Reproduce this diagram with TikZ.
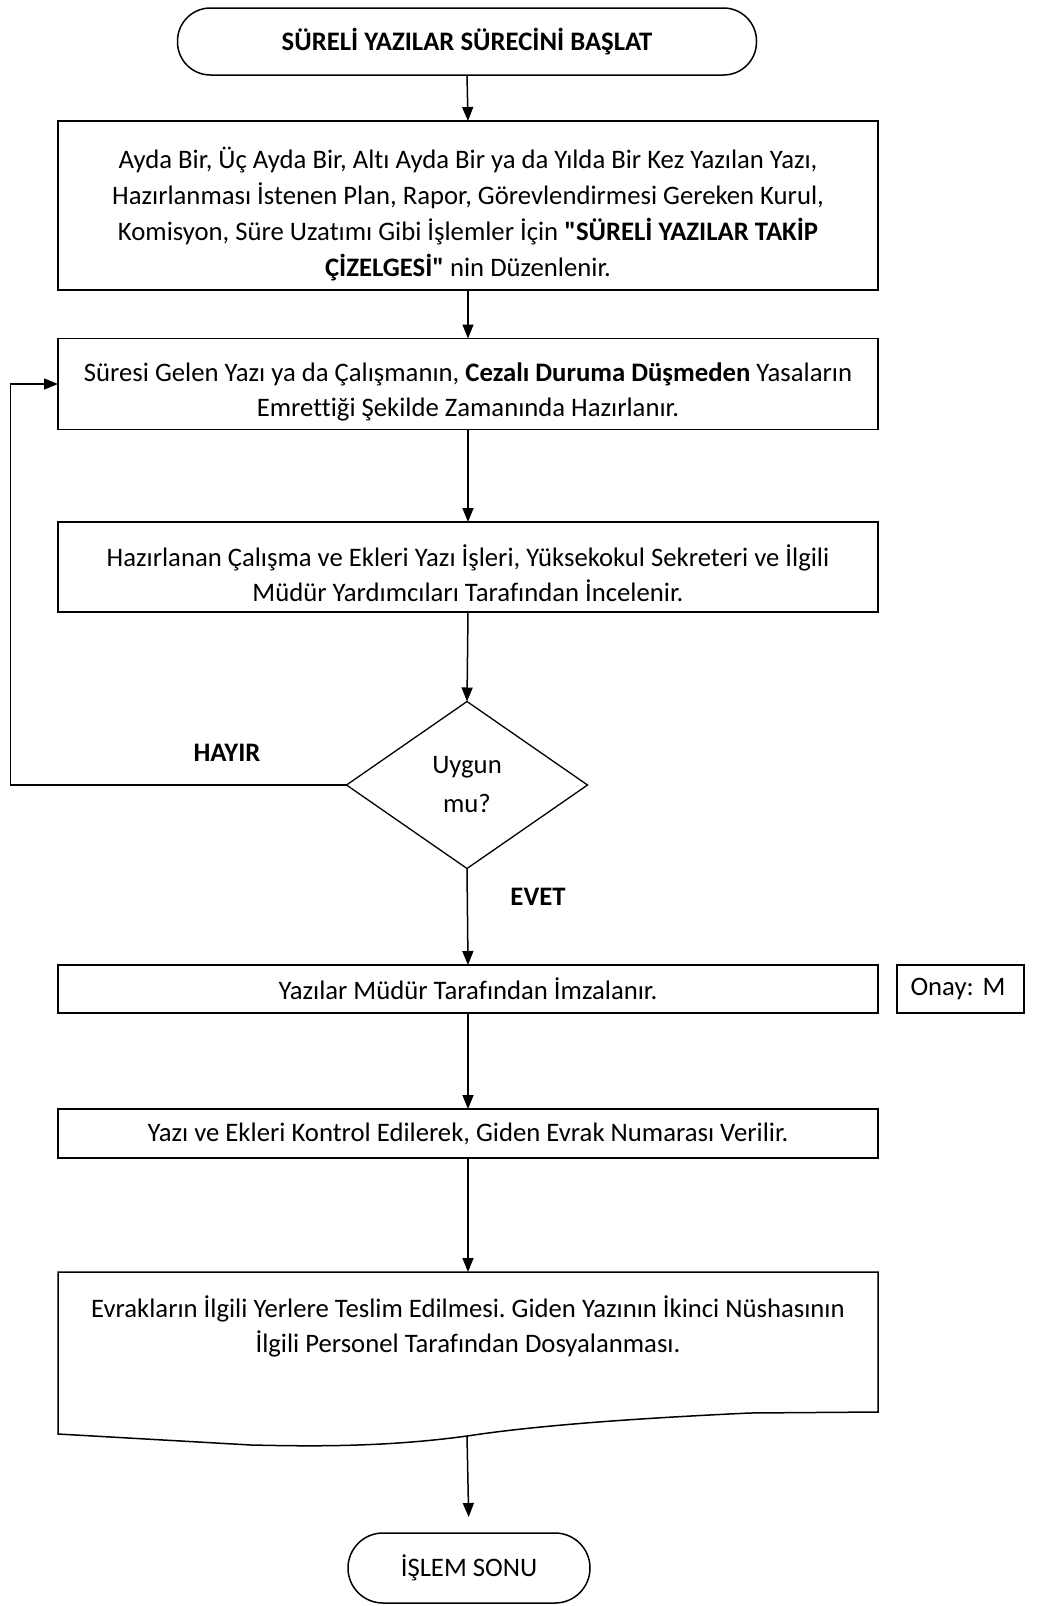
\documentclass[tikz,border=0pt]{standalone}
\usepackage{fontspec}
\setmainfont{Carlito}[Ligatures={TeXOff,NoCommon}]
\usetikzlibrary{arrows.meta,shapes.geometric}
\frenchspacing
\begin{document}
\begin{tikzpicture}[x=1pt,y=-1pt,
  every node/.style={font=\fontsize{26.7}{35}\selectfont, align=center, outer sep=0pt},
  flowbox/.style={draw, line width=1.5pt, minimum width=820pt, inner sep=0pt},
  boxtext/.style={inner sep=0pt},
  term/.style={draw, line width=1.5pt, inner sep=0pt},
  decision/.style={draw, diamond, line width=1.3pt, inner sep=0pt,
    minimum width=241pt, minimum height=167pt, font=\fontsize{26.7}{39}\selectfont},
  arr/.style={line width=1.5pt, -{Triangle[width=11pt,length=14pt]}},
  lbl/.style={font=\fontsize{26.7}{30}\selectfont\bfseries}
]
\useasboundingbox (0,0) rectangle (1055,1606);

% start terminator
\node[term, rounded corners=33pt, minimum width=579pt, minimum height=67pt] (start) at (467,41.5)
  {\textbf{SÜRELİ YAZILAR SÜRECİNİ BAŞLAT}};

% process steps (frame + text set slightly low, as with extra space above each line)
\node[flowbox, minimum height=169pt] (b1) at (468,205.5) {};
\node[boxtext, font=\fontsize{26.7}{36}\selectfont] (b1t) at ([yshift=-9pt]b1.center)
  {Ayda Bir, Üç Ayda Bir, Altı Ayda Bir ya da Yılda Bir Kez Yazılan Yazı,\\
   Hazırlanması İstenen Plan, Rapor, Görevlendirmesi Gereken Kurul,\\
   Komisyon, Süre Uzatımı Gibi İşlemler İçin \textbf{"SÜRELİ YAZILAR TAKİP}\\
   \textbf{ÇİZELGESİ"} nin Düzenlenir.};

\node[flowbox, minimum height=91pt] (b2) at (468,384) {};
\node[boxtext] (b2t) at ([yshift=-8pt]b2.center)
  {Süresi Gelen Yazı ya da Çalışmanın, \textbf{Cezalı Duruma Düşmeden} Yasaların\\
   Emrettiği Şekilde Zamanında Hazırlanır.};

\node[flowbox, minimum height=90pt] (b3) at (468,567) {};
\node[boxtext] (b3t) at ([yshift=-6pt]b3.center)
  {Hazırlanan Çalışma ve Ekleri Yazı İşleri, Yüksekokul Sekreteri ve İlgili\\
   Müdür Yardımcıları Tarafından İncelenir.};

\node[decision] (dec) at (467,785) {Uygun\\mu?};

\node[flowbox, minimum height=48pt] (b4) at (468,989)
  {Yazılar Müdür Tarafından İmzalanır.};

\node[draw, line width=1.5pt, minimum height=48pt, text width=100pt, inner xsep=13.5pt,
  inner ysep=0pt, align=left] (onay) at (960.5,989) {\mbox{Onay:\ M}};

\node[flowbox, minimum height=49pt] (b5) at (468,1133.5)
  {Yazı ve Ekleri Kontrol Edilerek, Giden Evrak Numarası Verilir.};

% document shape with wavy lower edge
\draw[line width=1.5pt] (58,1272) -- (878,1272) -- (878,1412) -- (750,1413)
  .. controls (600,1420) and (520,1428) .. (467,1436)
  .. controls (380,1448) and (300,1446) .. (251,1445)
  -- (58,1434) -- cycle;
\coordinate (doctop) at (468,1272);
\coordinate (docbot) at (467,1436);
\node[boxtext] (doctext) at (468,1326)
  {Evrakların İlgili Yerlere Teslim Edilmesi. Giden Yazının İkinci Nüshasının\\
   İlgili Personel Tarafından Dosyalanması.};

% end terminator
\node[term, rounded corners=35pt, minimum width=242pt, minimum height=70pt] (endt) at (469,1568)
  {İŞLEM SONU};

% connectors
\draw[arr] (start.south) -- (b1.north);
\draw[arr] (b1.south) -- (b2.north);
\draw[arr] (b2.south) -- (b3.north);
\draw[arr] (b3.south) -- (dec.north);
\draw[arr] (dec.south) -- (b4.north);
\draw[arr] (b4.south) -- (b5.north);
\draw[arr] (b5.south) -- (doctop);
\draw[arr, shorten >=16pt] (docbot) -- (endt.north);
\draw[arr] (dec.west) -- ++(-336,0) |- (b2.west);

% branch labels
\node[lbl] (no) at (227,753) {HAYIR};
\node[lbl] (yes) at (538,897) {EVET};
\end{tikzpicture}
\end{document}
